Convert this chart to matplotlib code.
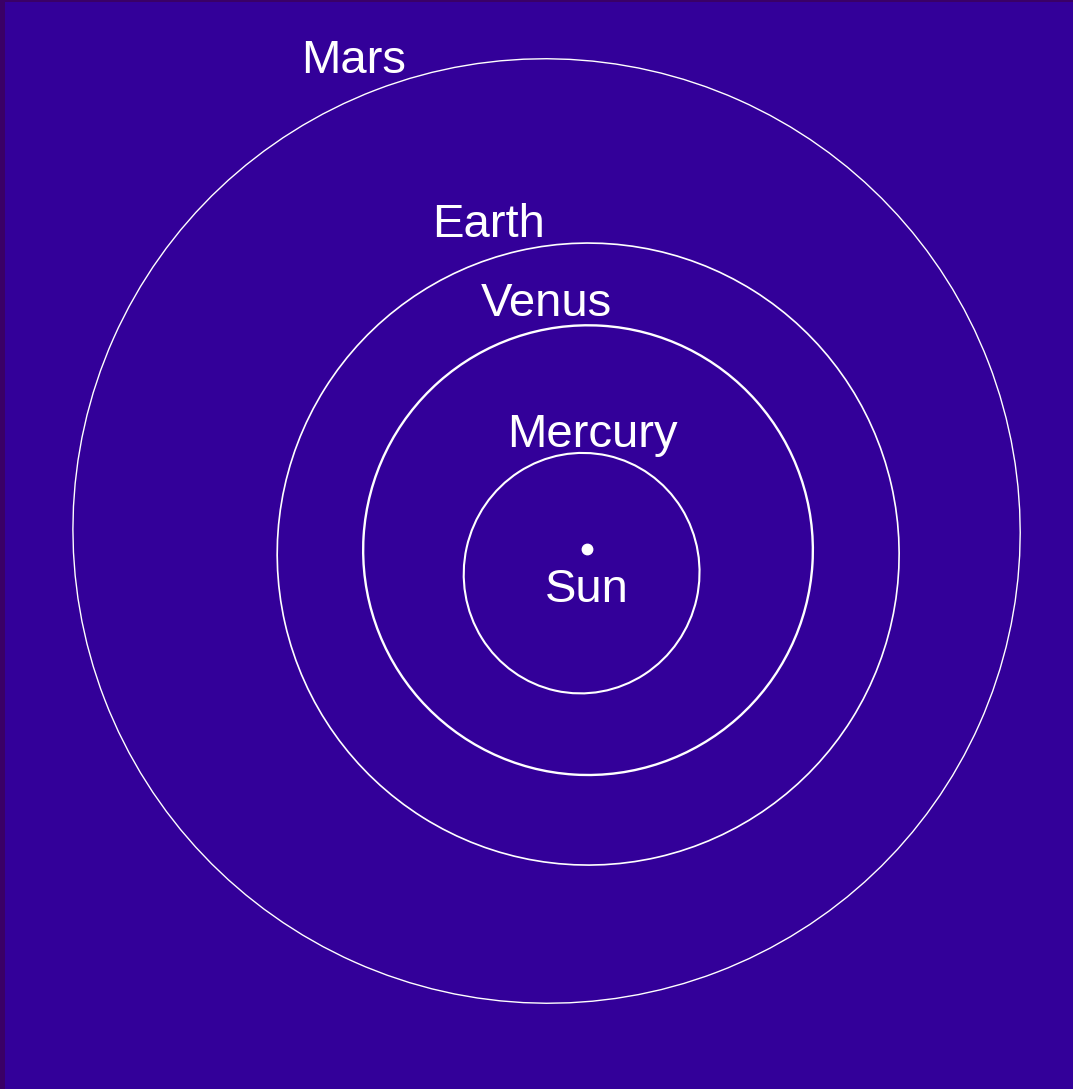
import numpy as np
import matplotlib
matplotlib.use("Agg")
import matplotlib.pyplot as plt
from matplotlib.patches import Ellipse

# Orbital elements
planets = ["Mercury", "Venus", "Earth", "Mars"]
semi_major_au = [0.387, 0.723, 1.000, 1.524]
eccentricity = [0.2056, 0.0068, 0.0167, 0.0934]
perihelion_deg = [77.46, 131.5, 102.9, 336.0]

# label layout (AU, baseline positions)
label_x = [0.019, -0.132, -0.318, -0.752]
label_y = [0.328, 0.749, 1.003, 1.531]
line_widths = [1.5, 1.7, 1.2, 1.0]

BG = "#330099"
BORDER = "#3a0066"

fig = plt.figure(figsize=(10.73, 10.89), dpi=100, facecolor=BORDER)
ax = fig.add_axes([5 / 1073, 0, 1068 / 1073, 1087 / 1089])
ax.set_facecolor(BG)

for name, a, e, w, lx, ly, lw in zip(planets, semi_major_au, eccentricity,
                                     perihelion_deg, label_x, label_y, line_widths):
    b = a * np.sqrt(1 - e ** 2)
    c = a * e
    cx = -c * np.cos(np.radians(w))
    cy = -c * np.sin(np.radians(w))
    ax.add_patch(Ellipse((cx, cy), 2 * a, 2 * b, angle=w, fill=False,
                         edgecolor="white", linewidth=lw, antialiased=True))
    ax.text(lx, ly, name, color="white", fontsize=34, family="Liberation Sans",
            ha="center", va="baseline")

ax.plot([0], [0], "o", color="white", markersize=7.5)
ax.text(0, -0.170, "Sun", color="white", fontsize=34, family="Liberation Sans",
        ha="center", va="baseline")

ax.set_xlim(-582 / 311, 486 / 311)
ax.set_ylim(-540 / 311, 547 / 311)
ax.set_xticks([])
ax.set_yticks([])
for s in ax.spines.values():
    s.set_visible(False)

fig.savefig("out.png", dpi=100, facecolor=BORDER)
